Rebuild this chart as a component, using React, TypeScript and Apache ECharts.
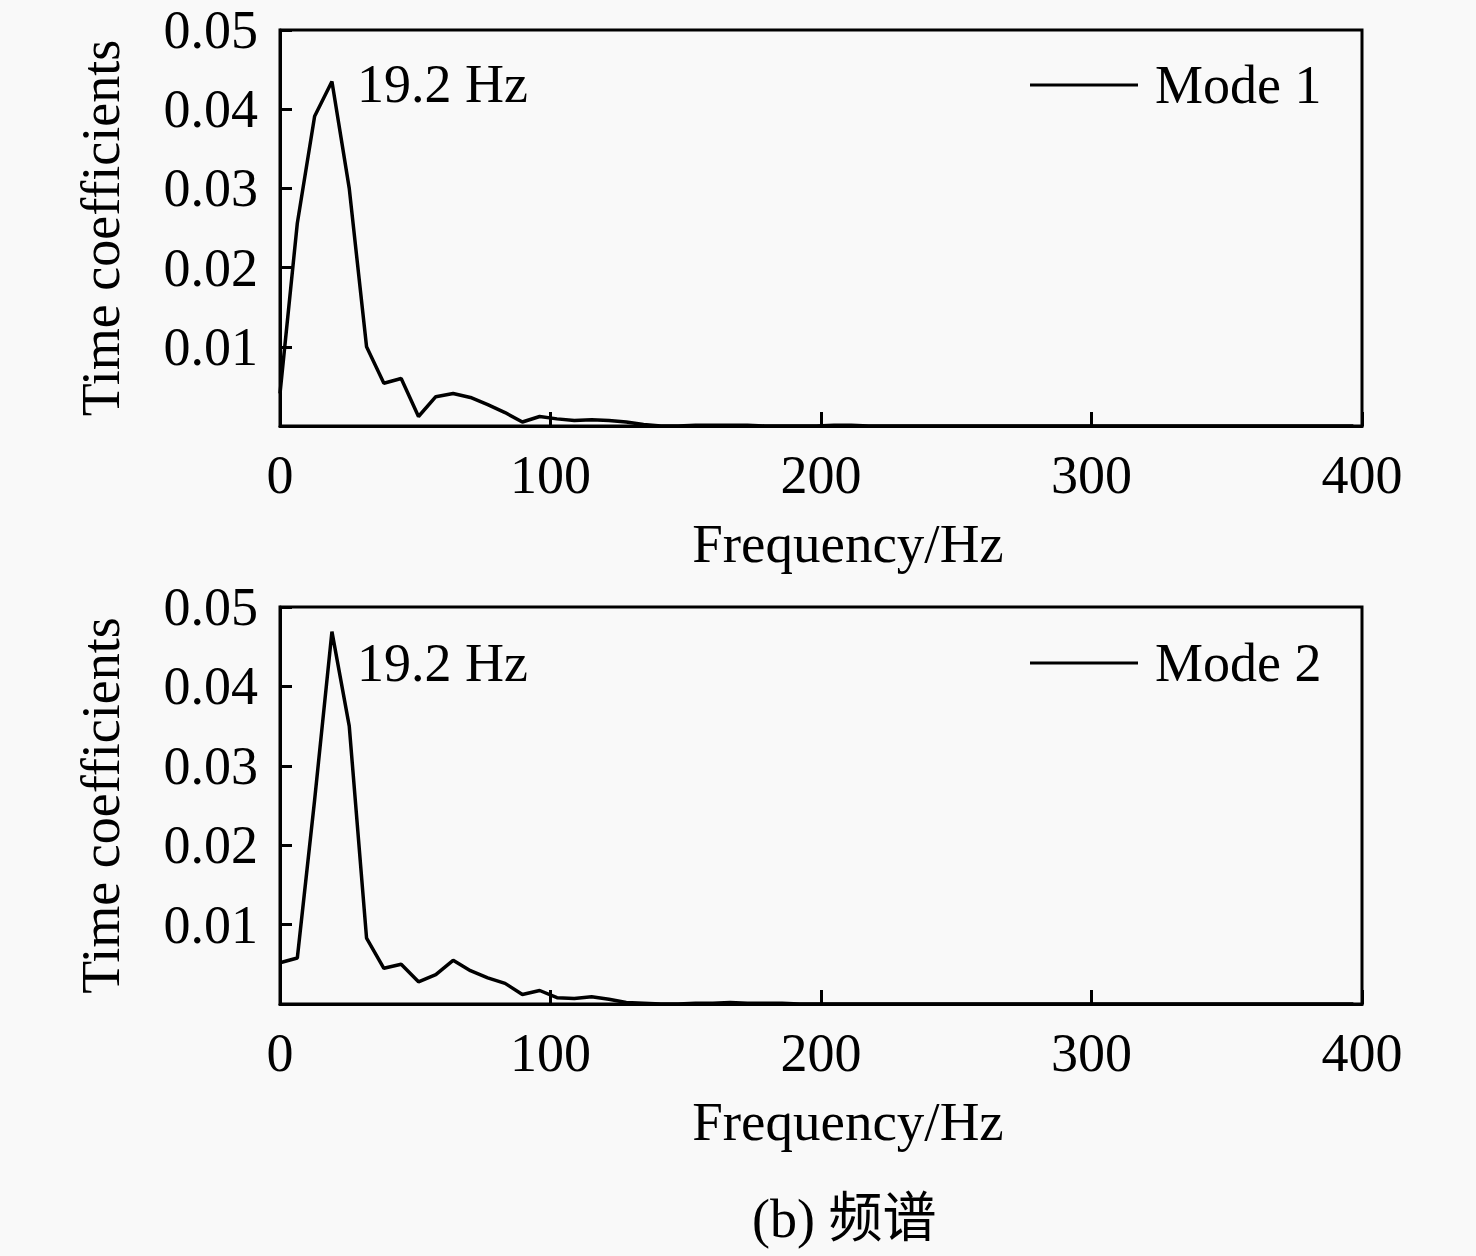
import React, { useEffect, useRef } from "react";
import * as echarts from "echarts";

// Frequency bins (Hz): spectrum sampled every 6.4 Hz from 0 to 396.8 Hz
const FREQ_STEP = 6.4;
const BIN_COUNT = 63;

const mode1Values = [
  0.0041, 0.0256, 0.0391, 0.0435, 0.0300, 0.0100, 0.0054, 0.0060, 0.0012, 0.0037,
  0.0041, 0.0036, 0.0027, 0.0017, 0.0005, 0.0012, 0.0009, 0.0007, 0.0008, 0.0007,
  0.0005, 0.0002, 0.0000, 0.0000, 0.0001, 0.0001, 0.0001, 0.0001, 0.0000, 0.0000,
  0.0000, 0.0000, 0.0001, 0.0001, 0.0000, 0.0000, 0.0000, 0.0000, 0.0000, 0.0000,
  0.0000, 0.0000, 0.0000, 0.0000, 0.0000, 0.0000, 0.0000, 0.0000, 0.0000, 0.0000,
  0.0000, 0.0000, 0.0000, 0.0000, 0.0000, 0.0000, 0.0000, 0.0000, 0.0000, 0.0000,
  0.0000, 0.0000, 0.0000,
];

const mode2Values = [
  0.0052, 0.0058, 0.0257, 0.0469, 0.0350, 0.0083, 0.0045, 0.0050, 0.0028, 0.0037,
  0.0055, 0.0042, 0.0033, 0.0026, 0.0012, 0.0017, 0.0008, 0.0007, 0.0009, 0.0006,
  0.0002, 0.0001, 0.0000, 0.0000, 0.0001, 0.0001, 0.0002, 0.0001, 0.0001, 0.0001,
  0.0000, 0.0000, 0.0000, 0.0000, 0.0000, 0.0000, 0.0000, 0.0000, 0.0000, 0.0000,
  0.0000, 0.0000, 0.0000, 0.0000, 0.0000, 0.0000, 0.0000, 0.0000, 0.0000, 0.0000,
  0.0000, 0.0000, 0.0000, 0.0000, 0.0000, 0.0000, 0.0000, 0.0000, 0.0000, 0.0000,
  0.0000, 0.0000, 0.0000,
];

const seriesNames = ["Mode 1", "Mode 2"];
const peakFreqs = [19.2, 19.2];
const peakLabels = ["19.2 Hz", "19.2 Hz"];
const xTicks = { min: 0, max: 400, interval: 100 };
const yTicks = { min: 0, max: 0.05, interval: 0.01 };
const xAxisTitle = "Frequency/Hz";
const yAxisTitle = "Time coefficients";
const caption = "(b) 频谱";

const FONT = "'Liberation Serif', 'Times New Roman', serif";
const CJK_FONT = "'Liberation Serif', 'Noto Sans CJK SC', serif";

export default function App() {
  const ref = useRef<HTMLDivElement>(null);

  useEffect(() => {
    document.body.style.margin = "0";
    if (!ref.current) return;
    const chart = echarts.init(ref.current, undefined, { renderer: "svg" });

    const freqs = Array.from({ length: BIN_COUNT }, (_, i) => +(i * FREQ_STEP).toFixed(1));
    const allValues = [mode1Values, mode2Values];

    const grids = [
      { left: 280, top: 30, width: 1082, height: 396 },
      { left: 280, top: 607, width: 1082, height: 397 },
    ];

    const mkX = (i: number) => ({
      type: "value",
      gridIndex: i,
      min: xTicks.min,
      max: xTicks.max,
      interval: xTicks.interval,
      name: xAxisTitle,
      nameLocation: "middle",
      nameGap: 90,
      nameTextStyle: { fontFamily: FONT, fontSize: 55, color: "#000", padding: [0, 0, 0, 54] },
      axisLine: { show: true, lineStyle: { color: "#000", width: 3 } },
      axisTick: { show: true, inside: true, length: 14, lineStyle: { color: "#000", width: 3 } },
      axisLabel: { fontFamily: FONT, fontSize: 54, color: "#000", margin: 22 },
      splitLine: { show: false },
    });

    const mkY = (i: number) => ({
      type: "value",
      gridIndex: i,
      min: yTicks.min,
      max: yTicks.max,
      interval: yTicks.interval,
      name: yAxisTitle,
      nameLocation: "middle",
      nameGap: 152,
      nameTextStyle: { fontFamily: FONT, fontSize: 54, color: "#000" },
      axisLine: { show: true, lineStyle: { color: "#000", width: 3 } },
      axisTick: { show: true, inside: true, length: 12, lineStyle: { color: "#000", width: 3 } },
      axisLabel: {
        fontFamily: FONT,
        fontSize: 54,
        color: "#000",
        margin: 22,
        formatter: (v: number) => (v === 0 ? "" : v.toFixed(2)),
      },
      splitLine: { show: false },
    });

    const legendTops = [58, 636];

    chart.setOption({
      animation: false,
      backgroundColor: "#f9f9f9",
      grid: grids.map((g) => ({
        ...g,
        show: true,
        borderColor: "#000",
        borderWidth: 3,
        backgroundColor: "transparent",
      })),
      xAxis: [mkX(0), mkX(1)],
      yAxis: [mkY(0), mkY(1)],
      legend: seriesNames.map((name, i) => ({
        data: [name],
        left: 1030,
        top: legendTops[i],
        padding: 0,
        icon: "rect",
        itemWidth: 108,
        itemHeight: 3,
        itemStyle: { color: "#000", borderWidth: 0 },
        textStyle: { fontFamily: FONT, fontSize: 54, color: "#000", padding: [0, 0, 0, 12] },
      })),
      series: seriesNames.map((name, i) => ({
        name,
        type: "line",
        xAxisIndex: i,
        yAxisIndex: i,
        symbol: "none",
        color: "#000",
        lineStyle: { color: "#000", width: 3.5 },
        data: freqs.map((f, k) => [f, allValues[i][k]]),
        markPoint: {
          symbol: "circle",
          symbolSize: 0,
          data: [
            {
              coord: [peakFreqs[i], Math.max(...allValues[i])],
              label: {
                show: true,
                position: "right",
                formatter: peakLabels[i],
                offset: i === 0 ? [20, 3] : [20, 31],
                fontFamily: FONT,
                fontSize: 54,
                color: "#000",
              },
            },
          ],
        },
      })),
      graphic: [
        {
          type: "text",
          left: 752,
          top: 1192,
          style: { text: caption, fontFamily: CJK_FONT, fontSize: 54, fill: "#000" },
        },
      ],
    });

    return () => chart.dispose();
  }, []);

  return <div ref={ref} style={{ width: 1476, height: 1256 }} />;
}
